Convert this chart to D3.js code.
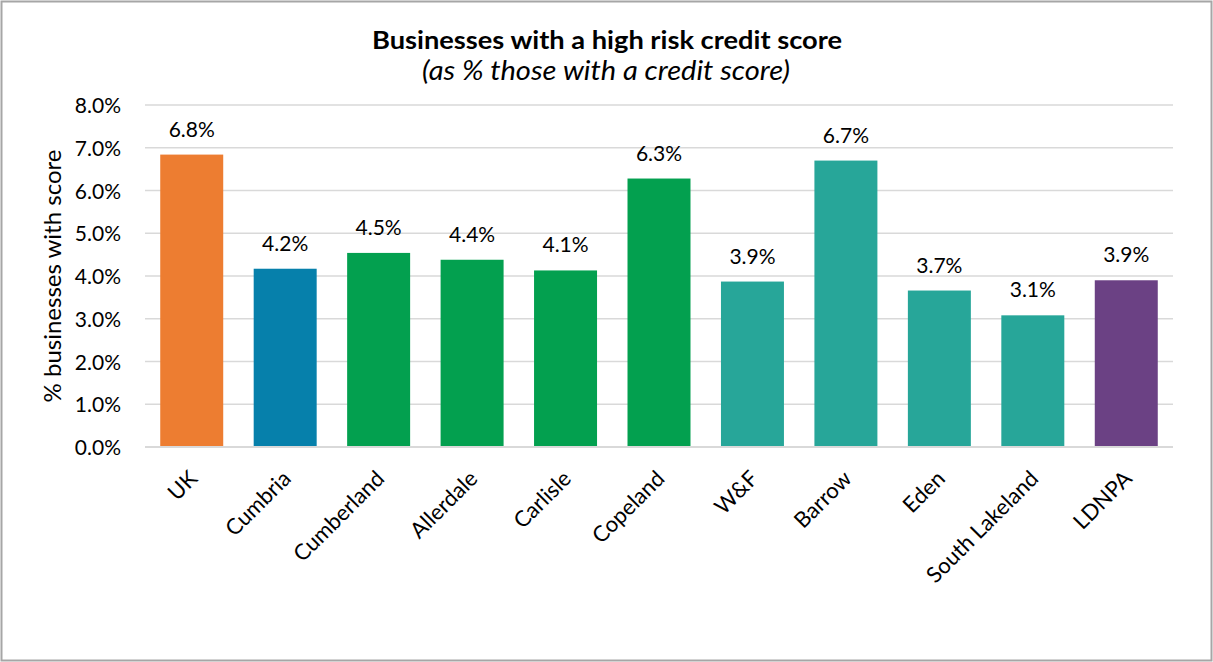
<!DOCTYPE html>
<html>
<head>
<meta charset="utf-8">
<script src="https://cdn.jsdelivr.net/npm/d3@7"></script>
<style>
  html, body { margin: 0; padding: 0; background: #fff; }
  svg { display: block; font-family: Lato, "Open Sans", sans-serif; }
</style>
</head>
<body>
<svg id="chart" width="1213" height="662"></svg>
<script>
// Share of businesses with a high risk credit score, by area
const categories = ["UK", "Cumbria", "Cumberland", "Allerdale", "Carlisle", "Copeland",
                    "W&F", "Barrow", "Eden", "South Lakeland", "LDNPA"];
const values = [6.84, 4.17, 4.54, 4.38, 4.13, 6.28, 3.87, 6.70, 3.66, 3.08, 3.90];
const barColors = ["#ED7D31", "#0680AB", "#03A04F", "#03A04F", "#03A04F", "#03A04F",
                   "#27A699", "#27A699", "#27A699", "#27A699", "#6B4184"];
const yTicks = [0, 1, 2, 3, 4, 5, 6, 7, 8];

const svg = d3.select("#chart");
const W = 1213, H = 662;
const FONT = "Lato, 'Open Sans', sans-serif";

// frame
svg.append("rect")
  .attr("x", 1.5).attr("y", 1.5).attr("width", W - 3).attr("height", H - 3)
  .attr("fill", "#fff").attr("stroke", "#a6a6a6").attr("stroke-width", 2);

const plot = { left: 145, right: 1173, top: 105, bottom: 447 };

const x = d3.scaleBand().domain(categories)
  .range([plot.left, plot.right]).paddingInner(0.326).paddingOuter(0.163);
const y = d3.scaleLinear().domain([0, 8]).range([plot.bottom, plot.top]);

// gridlines
svg.append("g").selectAll("line").data(yTicks).join("line")
  .attr("x1", plot.left).attr("x2", plot.right)
  .attr("y1", d => y(d)).attr("y2", d => y(d))
  .attr("stroke", "#d9d9d9").attr("stroke-width", 1.5);

// y axis labels
const yAxis = d3.axisLeft(y).tickValues(yTicks).tickSize(0).tickPadding(24)
  .tickFormat(d => d.toFixed(1) + "%");
svg.append("g").attr("transform", `translate(${plot.left},0)`).call(yAxis)
  .call(g => g.select(".domain").remove())
  .call(g => g.selectAll("text").attr("font-size", 21).attr("fill", "#000")
    .attr("font-family", FONT).attr("dy", "0.36em"));

// bars
svg.append("g").selectAll("rect").data(values).join("rect")
  .attr("x", (d, i) => x(categories[i]))
  .attr("width", x.bandwidth())
  .attr("y", d => y(d))
  .attr("height", d => y(0) - y(d))
  .attr("fill", (d, i) => barColors[i]);

// baseline
svg.append("line")
  .attr("x1", plot.left).attr("x2", plot.right)
  .attr("y1", y(0)).attr("y2", y(0))
  .attr("stroke", "#d9d9d9").attr("stroke-width", 2);

// value labels
svg.append("g").selectAll("text").data(values).join("text")
  .attr("x", (d, i) => x(categories[i]) + x.bandwidth() / 2)
  .attr("y", d => y(d) - 18)
  .attr("text-anchor", "middle")
  .attr("font-size", 21).attr("fill", "#000")
  .text(d => d.toFixed(1) + "%");

// category labels, rotated
const xAxis = d3.axisBottom(x).tickSize(0).tickPadding(0);
svg.append("g").attr("transform", `translate(0,${plot.bottom})`).call(xAxis)
  .call(g => g.select(".domain").remove())
  .call(g => g.selectAll("text")
    .attr("font-size", 22).attr("fill", "#000")
    .attr("font-family", FONT)
    .attr("text-anchor", "end")
    .attr("y", 0).attr("dy", 0)
    .attr("transform", "translate(7,33) rotate(-45)"));

// y axis title
svg.append("text")
  .attr("transform", `translate(61,276) rotate(-90)`)
  .attr("text-anchor", "middle")
  .attr("font-size", 24).attr("fill", "#000")
  .text("% businesses with score");

// titles
svg.append("text")
  .attr("x", 607).attr("y", 49)
  .attr("text-anchor", "middle")
  .attr("font-size", 25).attr("font-weight", "bold").attr("fill", "#000")
  .attr("textLength", 470).attr("lengthAdjust", "spacingAndGlyphs")
  .text("Businesses with a high risk credit score");
svg.append("text")
  .attr("x", 606).attr("y", 80)
  .attr("text-anchor", "middle")
  .attr("font-size", 27).attr("font-style", "italic").attr("fill", "#000")
  .attr("textLength", 368).attr("lengthAdjust", "spacingAndGlyphs")
  .text("(as % those with a credit score)");
</script>
</body>
</html>
